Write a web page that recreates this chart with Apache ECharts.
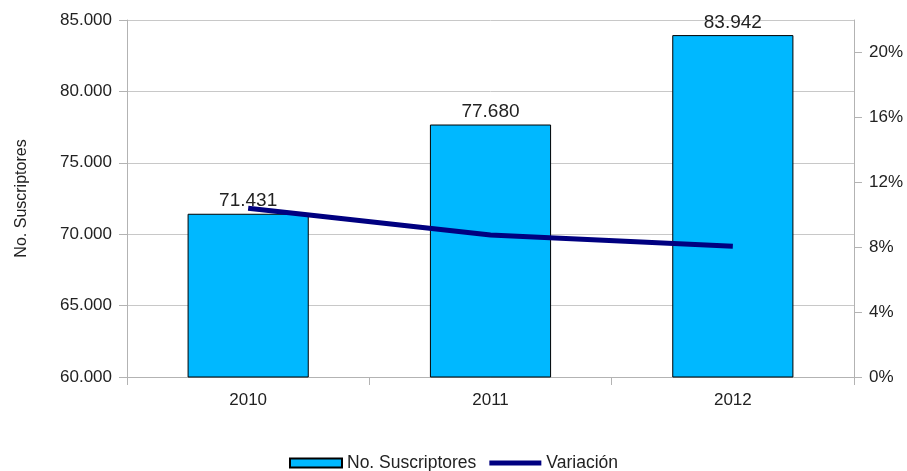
<!DOCTYPE html>
<html><head><meta charset="utf-8">
<script src="https://cdn.jsdelivr.net/npm/echarts@6/dist/echarts.min.js"></script>
<style>html,body{margin:0;padding:0;background:#fff}#c{width:907px;height:471px}</style>
</head><body><div id="c"></div>
<script>
var categories = ['2010', '2011', '2012'];
var suscriptores = [71431, 77680, 83942];
var variacion = [10.4, 8.75, 8.06];
var leftTicks = [60000, 85000, 5000];
var rightTicks = [0, 22, 4];

function fmt(v){ return String(v).replace(/\B(?=(\d{3})+(?!\d))/g, '.'); }

var chart = echarts.init(document.getElementById('c'));
var txt = '#222';
chart.setOption({
  animation: false,
  textStyle: { fontFamily: 'Liberation Sans, Arial, sans-serif' },
  grid: { left: 127, right: 53, top: 20, bottom: 94 },
  legend: {
    top: 449, left: 'center', itemWidth: 52, itemHeight: 9, itemGap: 13,
    textStyle: { color: txt, fontSize: 17.5 },
    data: [
      { name: 'No. Suscriptores', icon: 'rect' },
      { name: 'Variación', icon: 'path://M0,0 L52,0 L52,5 L0,5 Z', itemStyle: { color: '#000080', borderWidth: 0 } }
    ]
  },
  xAxis: {
    type: 'category', data: categories,
    axisLine: { lineStyle: { color: '#b3b3b3' } },
    axisTick: { show: true, length: 8, lineStyle: { color: '#b3b3b3' } },
    axisLabel: { color: txt, fontSize: 17, margin: 15 }
  },
  yAxis: [
    {
      type: 'value', min: leftTicks[0], max: leftTicks[1], interval: leftTicks[2],
      name: 'No. Suscriptores', nameLocation: 'middle', nameGap: 97,
      nameTextStyle: { color: txt, fontSize: 16 },
      axisLine: { show: true, lineStyle: { color: '#b3b3b3' } },
      axisTick: { show: true, length: 8, lineStyle: { color: '#b3b3b3' } },
      axisLabel: { color: txt, fontSize: 17, margin: 15, formatter: function(v){ return fmt(v); } },
      splitLine: { lineStyle: { color: '#c8c8c8' } }
    },
    {
      type: 'value', min: rightTicks[0], max: rightTicks[1], interval: rightTicks[2],
      position: 'right',
      axisLine: { show: true, lineStyle: { color: '#b3b3b3' } },
      axisTick: { show: true, length: 8, lineStyle: { color: '#b3b3b3' } },
      axisLabel: { color: txt, fontSize: 17, margin: 15, showMaxLabel: false, formatter: function(v){ return v + '%'; } },
      splitLine: { show: false }
    }
  ],
  series: [
    {
      name: 'No. Suscriptores', type: 'bar', data: suscriptores, barWidth: '50%',
      itemStyle: { color: '#00b8ff', borderColor: '#000', borderWidth: 1 },
      label: { show: true, position: 'top', color: txt, fontSize: 19, distance: 3, formatter: function(p){ return fmt(p.value); } }
    },
    {
      name: 'Variación', type: 'line', yAxisIndex: 1, data: variacion,
      showSymbol: false, symbol: 'none',
      lineStyle: { color: '#000080', width: 5 }, itemStyle: { color: '#000080' }
    }
  ]
});
</script></body></html>
